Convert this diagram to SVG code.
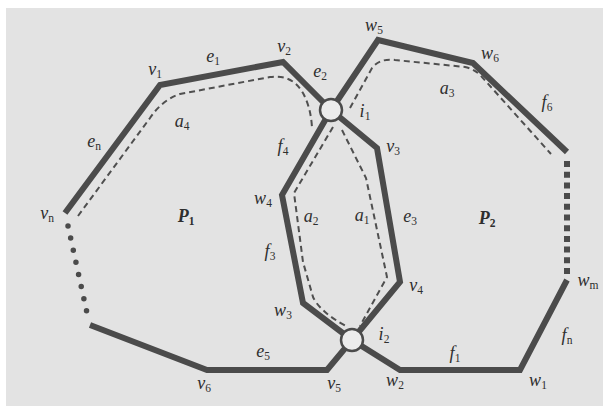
<svg xmlns="http://www.w3.org/2000/svg" width="605" height="406" viewBox="0 0 605 406">
<style>
.thick{fill:none;stroke:#4b4b4b;stroke-width:6;stroke-linejoin:miter;stroke-linecap:butt}
.dash{fill:none;stroke:#4f4f4f;stroke-width:2;stroke-dasharray:6 4}
.dots{fill:none;stroke:#4b4b4b;stroke-width:5.5;stroke-linecap:round;stroke-dasharray:0 12.4}
.squares{fill:none;stroke:#4b4b4b;stroke-width:6;stroke-dasharray:6 4.7}
.node{fill:#ececec;stroke:#4b4b4b;stroke-width:2.5}
.lbl{font-family:"Liberation Serif","DejaVu Serif",serif;font-style:italic;font-size:18px;fill:#2e2e2e;text-anchor:middle}
.sub{font-size:11.5px;font-style:normal}
.big{font-weight:bold}
</style>
<rect x="0" y="0" width="605" height="406" fill="#ffffff"/>
<rect x="6" y="8" width="597" height="398" fill="#e3e3e3"/>
<g id="connectors">
  <path class="thick" d="M65,213 L160,85 L283,62 L331,110"/>
  <path class="thick" d="M331,110 L282,195 L303,303 L352,340 L327,370 L207,370 L90,325"/>
  <path class="dots" d="M68,226 L87,313"/>
  <path class="thick" d="M331,110 L377,148 L400,282 L352,340"/>
  <path class="thick" d="M331,110 L378,40 L473,63 L567,152"/>
  <path class="squares" d="M567,161 L567,274"/>
  <path class="thick" d="M567,280 L520,370 L400,370 L352,340"/>
</g>
<g id="arcs">
  <path id="a4" class="dash" d="M78,216 L150,118 Q162,100 180,94 L270,77 Q292,74 303,93 Q311,108 312,128"/>
  <path id="a3" class="dash" d="M350,108 L372,68 Q380,58 395,60 L465,67 Q475,69 482,77 L551,154"/>
  <path id="a2" class="dash" d="M333,127 L294,193 L303,262 L313,297 Q320,312 346,326"/>
  <path id="a1" class="dash" d="M342,130 L366,178 L387,277 L360,326"/>
</g>
<g id="i1"><circle class="node" cx="331" cy="110" r="11"/></g>
<g id="i2"><circle class="node" cx="352" cy="340" r="11"/></g>
<g id="labels">
  <text class="lbl" x="155" y="75">v<tspan class="sub" dy="3">1</tspan></text>
  <text class="lbl" x="213" y="62">e<tspan class="sub" dy="3">1</tspan></text>
  <text class="lbl" x="284" y="52">v<tspan class="sub" dy="3">2</tspan></text>
  <text class="lbl" x="320" y="77">e<tspan class="sub" dy="3">2</tspan></text>
  <text class="lbl" x="365" y="117">i<tspan class="sub" dy="3">1</tspan></text>
  <text class="lbl" x="374" y="31">w<tspan class="sub" dy="3">5</tspan></text>
  <text class="lbl" x="490" y="59">w<tspan class="sub" dy="3">6</tspan></text>
  <text class="lbl" x="447" y="94">a<tspan class="sub" dy="3">3</tspan></text>
  <text class="lbl" x="547" y="108">f<tspan class="sub" dy="3">6</tspan></text>
  <text class="lbl" x="393" y="152">v<tspan class="sub" dy="3">3</tspan></text>
  <text class="lbl" x="182" y="127">a<tspan class="sub" dy="3">4</tspan></text>
  <text class="lbl" x="94" y="147">e<tspan class="sub" dy="3">n</tspan></text>
  <text class="lbl" x="283" y="152">f<tspan class="sub" dy="3">4</tspan></text>
  <text class="lbl" x="263" y="204">w<tspan class="sub" dy="3">4</tspan></text>
  <text class="lbl" x="47" y="219">v<tspan class="sub" dy="3">n</tspan></text>
  <text class="lbl big" x="186" y="222">P<tspan class="sub" dy="3">1</tspan></text>
  <text class="lbl" x="311" y="222">a<tspan class="sub" dy="3">2</tspan></text>
  <text class="lbl" x="362" y="221">a<tspan class="sub" dy="3">1</tspan></text>
  <text class="lbl" x="410" y="222">e<tspan class="sub" dy="3">3</tspan></text>
  <text class="lbl big" x="487" y="224">P<tspan class="sub" dy="3">2</tspan></text>
  <text class="lbl" x="270" y="257">f<tspan class="sub" dy="3">3</tspan></text>
  <text class="lbl" x="283" y="316">w<tspan class="sub" dy="3">3</tspan></text>
  <text class="lbl" x="416" y="291">v<tspan class="sub" dy="3">4</tspan></text>
  <text class="lbl" x="588" y="286">w<tspan class="sub" dy="3">m</tspan></text>
  <text class="lbl" x="384" y="340">i<tspan class="sub" dy="3">2</tspan></text>
  <text class="lbl" x="567" y="341">f<tspan class="sub" dy="3">n</tspan></text>
  <text class="lbl" x="263" y="357">e<tspan class="sub" dy="3">5</tspan></text>
  <text class="lbl" x="455" y="359">f<tspan class="sub" dy="3">1</tspan></text>
  <text class="lbl" x="204" y="389">v<tspan class="sub" dy="3">6</tspan></text>
  <text class="lbl" x="334" y="389">v<tspan class="sub" dy="3">5</tspan></text>
  <text class="lbl" x="395" y="386">w<tspan class="sub" dy="3">2</tspan></text>
  <text class="lbl" x="538" y="386">w<tspan class="sub" dy="3">1</tspan></text>
</g>
</svg>
